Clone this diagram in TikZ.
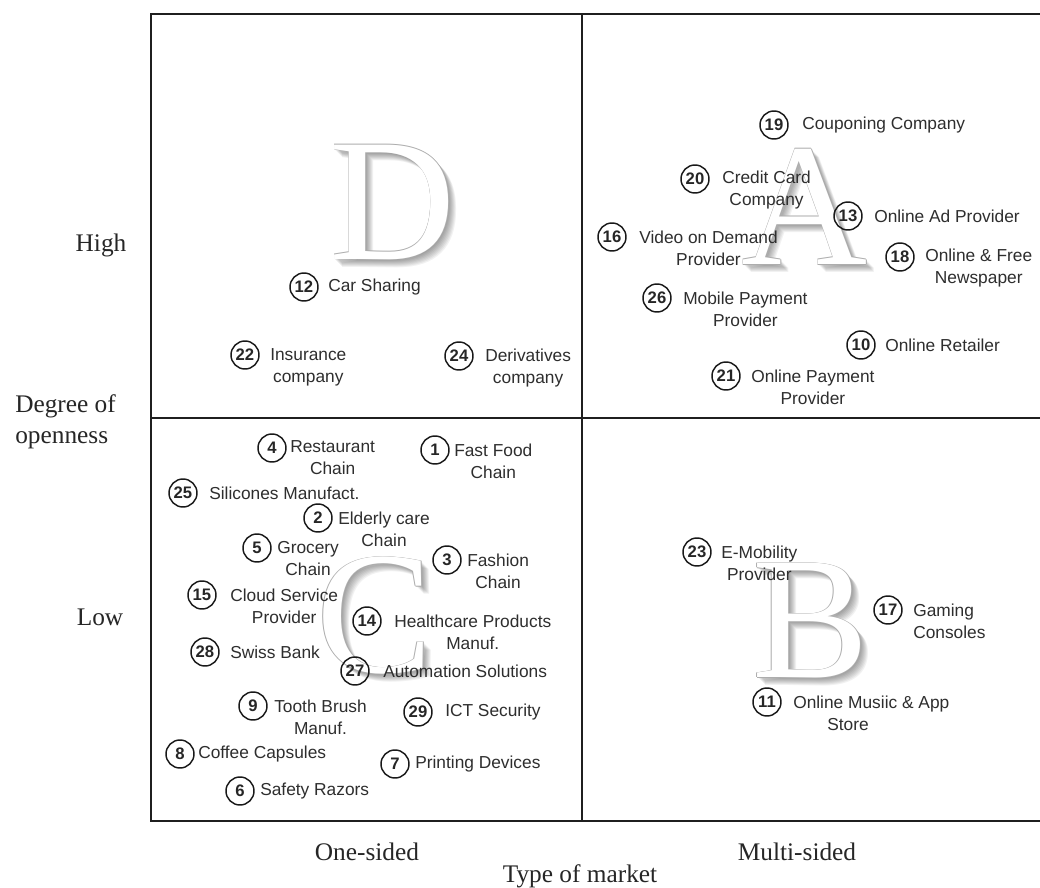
\documentclass[tikz,border=0pt]{standalone}
\usepackage{fontspec}
\setmainfont{Liberation Serif}
\setsansfont{Liberation Sans}

% one numbered company: number, circle centre, label anchor (west), options, text
\newcommand\entry[5]{%
  \node[num] (n#1) at (#2) {#1};
  \node[lbl,#4] (t#1) at (#3) {#5};
}

% big embossed quadrant letter: name, centre, letter
\newcommand\quadletter[3]{%
  \begin{scope}[shift={(#2)}]
    \foreach \d in {1,2,...,8}
      \node[big,text=black,opacity=0.055] at (\d,\d) {#3};
    \foreach \dx/\dy in {0.8/0,-0.8/0,0/0.8,0/-0.8}
      \node[big,text=black!32] at (\dx,\dy) {#3};
    \node[big,text=white] (#1) at (0,0) {#3};
  \end{scope}
}

\begin{document}
\begin{tikzpicture}[x=0.75pt,y=-0.75pt,
  frame/.style={line width=2.2pt,black!88},
  divider/.style={line width=1.5pt,black!88},
  num/.style={circle,draw=black!90,line width=1.1pt,minimum size=21pt,inner sep=0pt,
    font=\sffamily\bfseries\fontsize{12.5}{14}\selectfont,text=black!85},
  lbl/.style={anchor=west,font=\sffamily\fontsize{13}{16.5}\selectfont,text=black!82,
    align=center,inner sep=0pt},
  axis/.style={font=\fontsize{19}{23}\selectfont,text=black!85,inner sep=0pt},
  big/.style={font=\fontsize{131}{131}\selectfont,inner sep=0pt}
]
\useasboundingbox[fill=white] (0,0) rectangle (1040,888);

% frame and quadrant dividers
\coordinate (tl) at (151,14);
\coordinate (tr) at (1040,14);
\coordinate (bl) at (151,821);
\coordinate (br) at (1040,821);
\coordinate (mt) at (582,14);
\coordinate (mb) at (582,821);
\coordinate (ml) at (151,418);
\coordinate (mr) at (1040,418);
\draw[divider] (mt) -- (mb);
\draw[divider] (ml) -- (mr);
\draw[frame] (tr) -- (tl) -- (bl) -- (br);

% quadrant letters
\quadletter{qD}{393,202}{D}
\quadletter{qA}{805,207}{A}
\quadletter{qC}{375,616}{C}
\quadletter{qB}{811,621}{B}

% quadrant A
\entry{19}{774,125}{802,125}{}{Couponing Company}
\entry{20}{695,179}{722,190}{}{Credit Card\\Company}
\entry{13}{848,216}{874,216}{}{Online Ad Provider}
\entry{16}{612,237}{639,248}{}{Video on Demand\\Provider}
\entry{18}{900,257}{925,268}{}{Online \& Free\\Newspaper}
\entry{26}{657,298}{683,309}{}{Mobile Payment\\Provider}
\entry{10}{861,345}{885,345}{}{Online Retailer}
\entry{21}{726,376}{751,387}{}{Online Payment\\Provider}

% quadrant D
\entry{12}{304,287}{328,287}{}{Car Sharing}
\entry{22}{245,355}{270,367}{}{Insurance\\company}
\entry{24}{459,356}{485,368}{}{Derivatives\\company}

% quadrant C
\entry{4}{272,448}{290,458}{}{Restaurant\\Chain}
\entry{1}{435,450}{454,461}{}{Fast Food\\Chain}
\entry{25}{183,493}{209,493}{}{Silicones Manufact.}
\entry{2}{318,518}{338,529}{}{Elderly care\\Chain}
\entry{5}{257,548}{277,559}{}{Grocery\\Chain}
\entry{3}{447,560}{467,571}{}{Fashion\\Chain}
\entry{15}{202,595}{230,606}{}{Cloud Service\\Provider}
\entry{14}{367,621}{394,632}{}{Healthcare Products\\Manuf.}
\entry{28}{205,652}{230,652}{}{Swiss Bank}
\entry{27}{355,671}{383,671}{}{Automation Solutions}
\entry{9}{253,706}{274,717}{}{Tooth Brush\\Manuf.}
\entry{29}{418,712}{445,712}{}{ICT Security}
\entry{8}{180,754}{198,754}{}{Coffee Capsules}
\entry{7}{395,764}{415,764}{}{Printing Devices}
\entry{6}{240,791}{260,791}{}{Safety Razors}

% quadrant B
\entry{23}{697,552}{721,563}{}{E-Mobility\\Provider}
\entry{17}{888,610}{913,621}{align=left}{Gaming\\Consoles}
\entry{11}{767,702}{793,713}{align=left}{Online Musiic \& App\\\hspace*{25.5pt}Store}

% axis labels
\node[axis] (high) at (101,245) {High};
\node[axis,anchor=west,align=left] (openness) at (15,422) {Degree of\\openness};
\node[axis] (low) at (100,617) {Low};
\node[axis] (onesided) at (367,852) {One-sided};
\node[axis] (multisided) at (797,852) {Multi-sided};
\node[axis] (market) at (580,876) {Type of market};
\end{tikzpicture}
\end{document}
